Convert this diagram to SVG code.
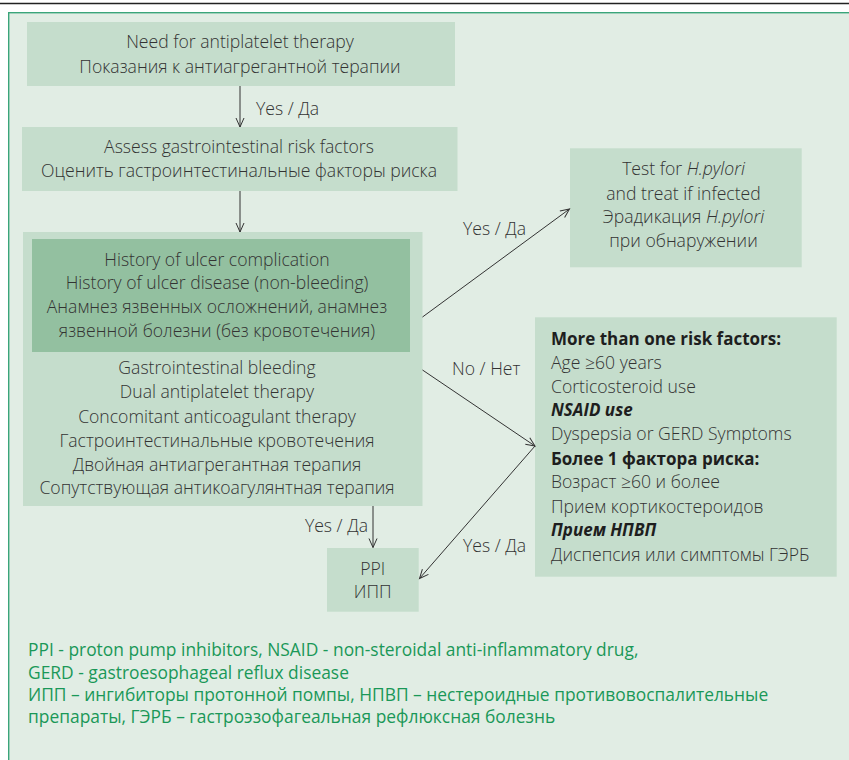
<svg xmlns="http://www.w3.org/2000/svg" width="849" height="760" viewBox="0 0 849 760">
<style>
  text { font-family: "Open Sans", "Liberation Sans", sans-serif; font-size: 17.6px; font-weight: 300; fill: #333; }
  .c { text-anchor: middle; }
  .b { font-weight: bold; font-size: 17px; fill: #1e1e1e; }
  .bi { font-weight: bold; font-size: 17px; font-style: italic; fill: #1e1e1e; }
  .i { font-style: italic; }
  .lg { fill: #1a9858; font-weight: 400; font-size: 17.4px; }
  .box { fill: #c5ddcc; }
  .dark { fill: #93c0a0; }
  .conn line { stroke: #333; stroke-width: 1; fill: none; marker-end: url(#ah); }
</style>
<defs>
  <marker id="ah" markerUnits="userSpaceOnUse" markerWidth="12" markerHeight="12" refX="10" refY="5" orient="auto">
    <path d="M1,1 L10,5 L1,9" fill="none" stroke="#333" stroke-width="1"/>
  </marker>
</defs>
<line x1="0" y1="3.5" x2="849" y2="3.5" stroke="#222" stroke-width="1.5"/>
<rect x="8.7" y="12.7" width="850" height="760" fill="#e1ede4" stroke="#3aa57a" stroke-width="1.4"/>

<g id="node-need">
  <rect class="box" x="27" y="22" width="428" height="64"/>
  <text class="c" x="240" y="48">Need for antiplatelet therapy</text>
  <text class="c" x="240" y="73">Показания к антиагрегантной терапии</text>
</g>
<g id="node-assess">
  <rect class="box" x="22" y="127" width="435.5" height="64"/>
  <text class="c" x="239" y="153">Assess gastrointestinal risk factors</text>
  <text class="c" x="239" y="177">Оценить гастроинтестинальные факторы риска</text>
</g>
<g id="node-history">
  <rect class="box" x="23" y="232" width="399.5" height="274"/>
  <rect class="dark" x="32" y="239" width="378" height="113"/>
  <text class="c" x="217" y="266">History of ulcer complication</text>
  <text class="c" x="217" y="289">History of ulcer disease (non-bleeding)</text>
  <text class="c" x="217" y="312.5">Анамнез язвенных осложнений, анамнез</text>
  <text class="c" x="217" y="336.5">язвенной болезни (без кровотечения)</text>
  <text class="c" x="217" y="374">Gastrointestinal bleeding</text>
  <text class="c" x="217" y="398">Dual antiplatelet therapy</text>
  <text class="c" x="217" y="423">Concomitant anticoagulant therapy</text>
  <text class="c" x="217" y="447">Гастроинтестинальные кровотечения</text>
  <text class="c" x="217" y="471">Двойная антиагрегантная терапия</text>
  <text class="c" x="217" y="494">Сопутствующая антикоагулянтная терапия</text>
</g>
<g id="node-hpylori">
  <rect class="box" x="570" y="148.3" width="231.7" height="119"/>
  <text class="c" x="683.5" y="175">Test for <tspan class="i">H.pylori</tspan></text>
  <text class="c" x="683.5" y="200">and treat if infected</text>
  <text class="c" x="683.5" y="223">Эрадикация <tspan class="i">H.pylori</tspan></text>
  <text class="c" x="683.5" y="247">при обнаружении</text>
</g>
<g id="node-risk">
  <rect class="box" x="535" y="317.3" width="301.7" height="259.4"/>
  <text class="b" x="551" y="345">More than one risk factors:</text>
  <text x="551" y="368.5">Age ≥60 years</text>
  <text x="551" y="392.5">Corticosteroid use</text>
  <text class="bi" x="551" y="416">NSAID use</text>
  <text x="551" y="440">Dyspepsia or GERD Symptoms</text>
  <text class="b" x="551" y="465">Более 1 фактора риска:</text>
  <text x="551" y="488">Возраст ≥60 и более</text>
  <text x="551" y="512.5">Прием кортикостероидов</text>
  <text class="bi" x="551" y="536">Прием НПВП</text>
  <text x="551" y="560.5">Диспепсия или симптомы ГЭРБ</text>
</g>
<g id="node-ppi">
  <rect class="box" x="327" y="548" width="91.7" height="63.7"/>
  <text class="c" x="372.7" y="575">PPI</text>
  <text class="c" x="372.7" y="598">ИПП</text>
</g>

<g id="connectors" class="conn">
  <line x1="240" y1="86" x2="240" y2="127"/>
  <line x1="240" y1="191" x2="240" y2="232"/>
  <line x1="422.5" y1="317" x2="569.5" y2="209"/>
  <line x1="422.5" y1="370" x2="535" y2="446"/>
  <line x1="535" y1="446" x2="419.5" y2="578.5"/>
  <line x1="373" y1="506" x2="373" y2="547.5"/>
</g>
<g id="connector-labels">
  <text x="256" y="115">Yes / Да</text>
  <text x="463" y="235">Yes / Да</text>
  <text x="452" y="375">No / Нет</text>
  <text x="463" y="552">Yes / Да</text>
  <text x="368" y="532" text-anchor="end">Yes / Да</text>
</g>

<g id="legend">
  <text class="lg" x="28" y="656">PPI - proton pump inhibitors, NSAID - non-steroidal anti-inflammatory drug,</text>
  <text class="lg" x="28" y="678.5">GERD - gastroesophageal reflux disease</text>
  <text class="lg" x="28" y="701">ИПП – ингибиторы протонной помпы, НПВП – нестероидные противовоспалительные</text>
  <text class="lg" x="28" y="723">препараты, ГЭРБ – гастроэзофагеальная рефлюксная болезнь</text>
</g>
</svg>
